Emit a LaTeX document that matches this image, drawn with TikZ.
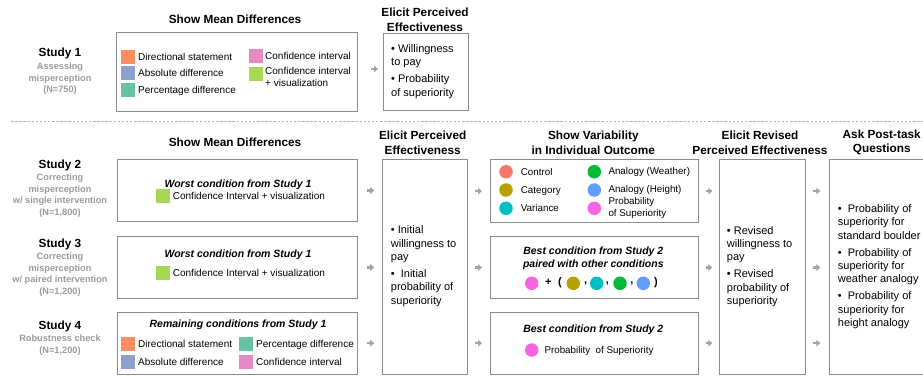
\documentclass[tikz,border=0pt]{standalone}
\usepackage{fontspec}
\setmainfont{Liberation Sans}
\usetikzlibrary{arrows.meta}
\definecolor{bordergray}{HTML}{8C8C8C}
\definecolor{arrowgray}{HTML}{A3A3A3}
\definecolor{subgray}{HTML}{9A9A9A}
\definecolor{dashgray}{HTML}{B4B4B4}
\definecolor{cdir}{HTML}{FC8D62}
\definecolor{cabs}{HTML}{8DA0CB}
\definecolor{cpct}{HTML}{66C2A5}
\definecolor{cci}{HTML}{E78AC3}
\definecolor{cviz}{HTML}{A6D854}
\definecolor{kctrl}{HTML}{F8766D}
\definecolor{kcat}{HTML}{B79F00}
\definecolor{kvar}{HTML}{00BFC4}
\definecolor{kweather}{HTML}{00BA38}
\definecolor{kheight}{HTML}{619CFF}
\definecolor{kprob}{HTML}{F564E3}
\newcommand\hdfont{\fontsize{11.8}{14.6}\selectfont\bfseries}
\newcommand\stfont{\fontsize{11.8}{14}\selectfont\bfseries}
\newcommand\subfont{\fontsize{9.2}{11.6}\selectfont\bfseries\color{subgray}}
\newcommand\bodyfont{\fontsize{10}{12}\selectfont}
\newcommand\legfont{\fontsize{9.8}{12.3}\selectfont}
\newcommand\bulfont{\fontsize{11}{13.4}\selectfont}
\newcommand\bifont{\fontsize{10.5}{13.3}\selectfont\bfseries\itshape}
\tikzset{
  box/.style={draw=bordergray, line width=1.1pt, inner sep=0, anchor=north west},
  head/.style={font=\hdfont, align=center, inner sep=0},
  stname/.style={font=\stfont, inner sep=0},
  stsub/.style={font=\subfont, align=center, inner sep=0},
  lbl/.style={font=\bodyfont, inner sep=0, anchor=west, text height=1.5ex, text depth=0.25ex},
  leg/.style={font=\legfont, inner sep=0, anchor=west, align=left},
  bul/.style={font=\bulfont, inner sep=0, anchor=west, align=left},
  bihead/.style={font=\bifont, align=center, inner sep=0},
  sq/.style={rectangle, minimum size=14pt, inner sep=0},
  dot/.style={circle, minimum size=13.5pt, inner sep=0},
  sym/.style={font=\fontsize{11}{13}\selectfont\bfseries, inner sep=0},
  arr/.style={draw=arrowgray, line width=2.3pt, -{Triangle[length=4pt,width=6.5pt]}},
}
\begin{document}
\begin{tikzpicture}[x=1pt,y=-1pt]
\useasboundingbox (0,0) rectangle (923,375);

% ---------- Study 1 ----------
\node[head] (h1) at (235,19) {Show Mean Differences};
\node[head] (h2) at (425,19.5) {Elicit Perceived\\Effectiveness};
\node[stname] (st1) at (60,53) {Study 1};
\node[stsub] (st1s) at (60,79) {Assessing\\misperception\\(N=750)};

\node[box, minimum width=241pt, minimum height=78.4pt] (m1) at (115.7,32.3) {};
\node[box, minimum width=85pt, minimum height=77pt] (e1) at (383,33) {};

\node[sq, fill=cdir] (m1a) at (127.7,56.7) {};
\node[lbl] (m1at) at (138,56.7) {Directional statement};
\node[sq, fill=cabs] (m1b) at (127.7,73) {};
\node[lbl] (m1bt) at (138,73) {Absolute difference};
\node[sq, fill=cpct] (m1c) at (127.7,89.8) {};
\node[lbl] (m1ct) at (138,89.8) {Percentage difference};
\node[sq, fill=cci] (m1d) at (256,56.2) {};
\node[lbl] (m1dt) at (265,56.2) {Confidence interval};
\node[sq, fill=cviz] (m1e) at (256,73.5) {};
\node[font=\bodyfont, align=left, inner sep=0, anchor=north west] (m1et) at (265,67.3) {Confidence interval\\+ visualization};

\node[bul] (e1t) at (391,71.5) {• Willingness\\to pay\\[3.5pt]• Probability\\of superiority};

\draw[arr, shorten <=13pt, shorten >=5pt] (m1.east |- 0,69) coordinate (a1s) -- (a1s -| e1.west);

% ---------- dashed separator ----------
\coordinate (dl) at (11,121.7);
\coordinate (dr) at (923,121.7);
\draw[dashgray, line width=1pt, dash pattern=on 2.5pt off 1.6pt] (dl) -- (dr);

% ---------- headings lower ----------
\node[head] (h3) at (235,142.7) {Show Mean Differences};
\node[head] (h4) at (422.7,142.5) {Elicit Perceived\\Effectiveness};
\node[head] (h5) at (593.3,142.5) {Show Variability\\in Individual Outcome};
\node[head] (h6) at (760,142.5) {Elicit Revised\\Perceived Effectiveness};
\node[head] (h7) at (881.7,142.5) {Ask Post-task\\Questions};

% ---------- study labels ----------
\node[stname] (st2) at (60,165) {Study 2};
\node[stsub] (st2s) at (60,195.5) {Correcting\\misperception\\w/ single intervention\\(N=1,800)};
\node[stname] (st3) at (60,244) {Study 3};
\node[stsub] (st3s) at (60,274.5) {Correcting\\misperception\\w/ paired intervention\\(N=1,200)};
\node[stname] (st4) at (60,326.7) {Study 4};
\node[stsub] (st4s) at (60,345.3) {Robustness check\\(N=1,200)};

% ---------- boxes ----------
\node[box, minimum width=240.5pt, minimum height=62pt] (m2) at (116.5,159) {};
\node[box, minimum width=240.5pt, minimum height=62.8pt] (m3) at (116.5,235.5) {};
\node[box, minimum width=240.5pt, minimum height=61.8pt] (m4) at (116.5,311.7) {};
\node[box, minimum width=85pt, minimum height=214.2pt] (el) at (381.7,159.3) {};
\node[box, minimum width=208pt, minimum height=62.4pt] (v2) at (490,159.3) {};
\node[box, minimum width=208pt, minimum height=62.6pt] (v3) at (490,235.7) {};
\node[box, minimum width=208pt, minimum height=61.8pt] (v4) at (490,311.7) {};
\node[box, minimum width=85.7pt, minimum height=214.2pt] (rv) at (719.3,159.3) {};
\node[box, minimum width=110pt, minimum height=214.2pt] (pt) at (829.3,159.3) {};

% ---------- Study 2 mean box ----------
\node[bihead] (m2h) at (238,185) {Worst condition from Study 1};
\node[sq, fill=cviz] (m2s) at (163,196) {};
\node[lbl] (m2t) at (172.7,196) {Confidence Interval + visualization};

% ---------- Study 3 mean box ----------
\node[bihead] (m3h) at (238,255) {Worst condition from Study 1};
\node[sq, fill=cviz] (m3s) at (163,273.3) {};
\node[lbl] (m3t) at (172.7,273.3) {Confidence Interval + visualization};

% ---------- Study 4 mean box ----------
\node[bihead] (m4h) at (238,325) {Remaining conditions from Study 1};
\node[sq, fill=cdir] (m4a) at (127.7,344) {};
\node[lbl] (m4at) at (138,344) {Directional statement};
\node[sq, fill=cabs] (m4b) at (127.7,362.3) {};
\node[lbl] (m4bt) at (138,362.3) {Absolute difference};
\node[sq, fill=cpct] (m4c) at (246.3,344) {};
\node[lbl] (m4ct) at (256,344) {Percentage difference};
\node[sq, fill=cci] (m4d) at (246.3,362.3) {};
\node[lbl] (m4dt) at (256,362.3) {Confidence interval};

% ---------- Elicit (initial) ----------
\node[bul] (elt) at (390.7,266.3) {• Initial\\willingness to\\pay\\[3.5pt]•\ \ Initial\\probability of\\superiority};

% ---------- Variability Study 2 ----------
\node[dot, fill=kctrl] (k1) at (506,171.7) {};
\node[lbl, font=\legfont] (k1t) at (520.7,171.7) {Control};
\node[dot, fill=kcat] (k2) at (506,190) {};
\node[lbl, font=\legfont] (k2t) at (520.7,190) {Category};
\node[dot, fill=kvar] (k3) at (506,208.3) {};
\node[lbl, font=\legfont] (k3t) at (520.7,208.3) {Variance};
\node[dot, fill=kweather] (k4) at (594.3,171.7) {};
\node[lbl, font=\legfont] (k4t) at (608.3,170.7) {Analogy (Weather)};
\node[dot, fill=kheight] (k5) at (594.3,190) {};
\node[lbl, font=\legfont] (k5t) at (608.3,189) {Analogy (Height)};
\node[dot, fill=kprob] (k6) at (594.3,208.3) {};
\node[leg] (k6t) at (608.3,207.8) {Probability\\of Superiority};

% ---------- Variability Study 3 ----------
\node[bihead] (v3h) at (593.3,258.3) {Best condition from Study 2\\paired with other conditions};
\node[dot, fill=kprob] (p1) at (531.7,283.3) {};
\node[sym] (p2) at (548.3,282.5) {+};
\node[sym] (p3) at (560,282.5) {(};
\node[dot, fill=kcat] (p4) at (573.3,283.3) {};
\node[sym] (p5) at (585.7,284) {,};
\node[dot, fill=kvar] (p6) at (596.7,283.3) {};
\node[sym] (p7) at (607.5,284) {,};
\node[dot, fill=kweather] (p8) at (620,283.3) {};
\node[sym] (p9) at (632,284) {,};
\node[dot, fill=kheight] (p10) at (643.3,283.3) {};
\node[sym] (p11) at (656,282.5) {)};

% ---------- Variability Study 4 ----------
\node[bihead] (v4h) at (593.3,330) {Best condition from Study 2};
\node[dot, fill=kprob] (q1) at (531.7,350) {};
\node[lbl, font=\legfont] (q1t) at (544.3,350) {Probability\ \ of Superiority};

% ---------- Revised ----------
\node[bul] (rvt) at (726.7,266.5) {• Revised\\willingness to\\pay\\[3.5pt]• Revised\\probability of\\superiority};

% ---------- Post-task ----------
\node[bul] (ptt) at (837.7,266.6) {•\ \ Probability of\\superiority for\\standard boulder\\[3.5pt]•\ \ Probability of\\superiority for\\weather analogy\\[3.5pt]•\ \ Probability of\\superiority for\\height analogy};

% ---------- arrows ----------
\draw[arr, shorten <=9pt, shorten >=7.5pt] (m2.east) -- (m2.east -| el.west);
\draw[arr, shorten <=9pt, shorten >=7.5pt] (m3.east) -- (m3.east -| el.west);
\draw[arr, shorten <=9pt, shorten >=7.5pt] (m4.east) -- (m4.east -| el.west);
\draw[arr, shorten <=7.5pt, shorten >=8pt] (v2.west -| el.east) -- (v2.west);
\draw[arr, shorten <=7.5pt, shorten >=8pt] (v3.west -| el.east) -- (v3.west);
\draw[arr, shorten <=7.5pt, shorten >=8pt] (v4.west -| el.east) -- (v4.west);
\draw[arr, shorten <=6.5pt, shorten >=7pt] (v2.east) -- (v2.east -| rv.west);
\draw[arr, shorten <=6.5pt, shorten >=7pt] (v3.east) -- (v3.east -| rv.west);
\draw[arr, shorten <=6.5pt, shorten >=7pt] (v4.east) -- (v4.east -| rv.west);
\draw[arr, shorten <=7pt, shorten >=9pt] (v2.east -| rv.east) -- (v2.east -| pt.west);
\draw[arr, shorten <=7pt, shorten >=9pt] (v3.east -| rv.east) -- (v3.east -| pt.west);
\draw[arr, shorten <=7pt, shorten >=9pt] (v4.east -| rv.east) -- (v4.east -| pt.west);
\end{tikzpicture}
\end{document}
